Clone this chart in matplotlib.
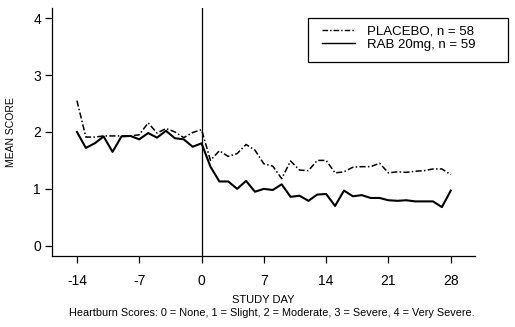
import matplotlib
matplotlib.use("Agg")
import matplotlib.pyplot as plt
from matplotlib.patches import Rectangle

plt.rcParams['font.family'] = ['Liberation Sans', 'DejaVu Sans']
plt.rcParams['axes.unicode_minus'] = False

# study days -14 .. 28
days = list(range(-14, 29))

placebo = [2.55, 1.91, 1.91, 1.93, 1.93, 1.93, 1.93, 1.95, 2.16, 1.98,
           2.06, 2.00, 1.90, 1.99, 2.04, 1.50, 1.67, 1.57, 1.62, 1.78,
           1.68, 1.44, 1.40, 1.18, 1.49, 1.33, 1.32, 1.50, 1.50, 1.28,
           1.30, 1.38, 1.39, 1.39, 1.45, 1.28, 1.30, 1.29, 1.31, 1.32,
           1.35, 1.35, 1.25]

rab20 = [2.00, 1.72, 1.80, 1.92, 1.65, 1.92, 1.93, 1.87, 1.98, 1.90,
         2.02, 1.89, 1.87, 1.74, 1.80, 1.39, 1.13, 1.13, 1.00, 1.14,
         0.95, 1.00, 0.98, 1.08, 0.86, 0.88, 0.79, 0.90, 0.91, 0.70,
         0.97, 0.87, 0.89, 0.84, 0.84, 0.80, 0.79, 0.80, 0.78, 0.78,
         0.78, 0.68, 0.97]

xticks = [-14, -7, 0, 7, 14, 21, 28]
yticks = [0, 1, 2, 3, 4]

fig = plt.figure(figsize=(5.15, 3.27), dpi=100)
ax = fig.add_axes([0.101, 0.217, 0.821, 0.759])

ax.plot(days, placebo, color='black', lw=1.1, dashes=(4, 1.5, 1, 1.5),
        label='PLACEBO, n = 58')
ax.plot(days, rab20, color='black', lw=1.5, label='RAB 20mg, n = 59')
ax.axvline(0, color='black', lw=0.9)

ax.set_xlim(-16.8, 30.7)
ax.set_ylim(-0.18, 4.18)
ax.set_xticks(xticks)
ax.set_yticks(yticks)
ax.tick_params(direction='out', length=5, width=0.9, labelsize=10)
ax.tick_params(axis='x', pad=8)
ax.tick_params(axis='y', pad=3)
for side in ['top', 'right']:
    ax.spines[side].set_visible(False)
for side in ['left', 'bottom']:
    ax.spines[side].set_linewidth(0.9)

fig.text(0.512, 0.082, 'STUDY DAY', ha='center', va='center', fontsize=8)
fig.text(0.528, 0.043,
         'Heartburn Scores: 0 = None, 1 = Slight, 2 = Moderate, 3 = Severe, 4 = Very Severe.',
         ha='center', va='center', fontsize=7.8)
fig.text(0.022, 0.597, 'MEAN SCORE', rotation=90, ha='center', va='center', fontsize=7.5)

# legend without its own frame; the box is drawn separately
leg = ax.legend(loc='upper left', bbox_to_anchor=(0.625, 0.922),
                bbox_transform=fig.transFigure, fontsize=9.5, frameon=False,
                handlelength=2.5, borderpad=0, labelspacing=0.05,
                handletextpad=0.95, borderaxespad=0)
for h in leg.get_lines():
    h.set_linewidth(1.0)

fig.patches.append(Rectangle((0.598, 0.810), 0.389, 0.1346, transform=fig.transFigure,
                             fill=False, edgecolor='black', lw=0.9))

fig.savefig('out.png', dpi=100)
